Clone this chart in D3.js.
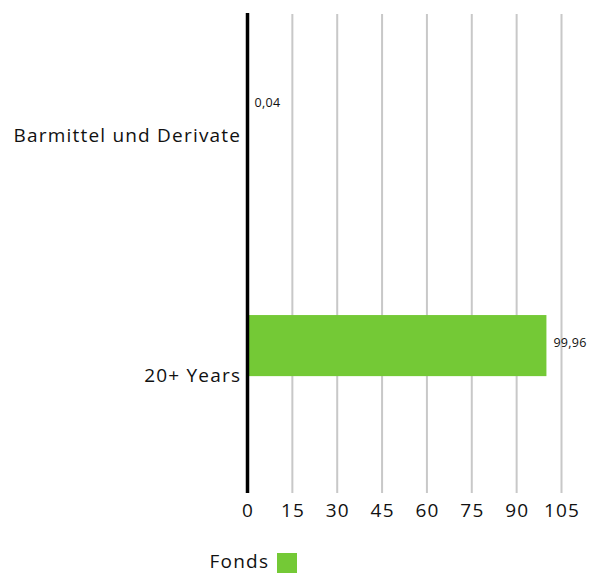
<!DOCTYPE html>
<html><head><meta charset="utf-8">
<script src="https://cdn.jsdelivr.net/npm/d3@7"></script>
<style>body{margin:0;background:#fff}svg{display:block}text{font-family:"Open Sans",sans-serif;fill:#111}</style>
</head><body>
<svg id="c" width="592" height="574"></svg>
<script>
const categories = ["Barmittel und Derivate", "20+ Years"];
const fondsValues = [0.04, 99.96];
const valueLabels = ["0,04", "99,96"];
const xTicks = [0, 15, 30, 45, 60, 75, 90, 105];
const seriesName = "Fonds";
const color = "#74C936";

const svg = d3.select("#c");
const x = d3.scaleLinear().domain([0, 105]).range([247.5, 561.5]);
const y = d3.scaleBand().domain(categories).range([14, 493]);
const LS = 1.2;

// grid
svg.append("g").selectAll("line").data(xTicks.slice(1)).join("line")
  .attr("x1", d => x(d)).attr("x2", d => x(d))
  .attr("y1", 14).attr("y2", 493)
  .attr("stroke", "#c8c8c8").attr("stroke-width", 2);

// tick labels
svg.append("g").selectAll("text").data(xTicks).join("text")
  .attr("x", d => x(d) + LS / 2).attr("y", 510).attr("dy", "0.35em")
  .attr("text-anchor", "middle").attr("font-size", 19).attr("letter-spacing", LS)
  .text(d => d);

// bars
const bw = y.bandwidth();
svg.append("g").selectAll("rect").data(categories).join("rect")
  .attr("x", x(0)).attr("y", c => y(c) + bw * 0.257)
  .attr("width", (c, i) => x(fondsValues[i]) - x(0))
  .attr("height", bw * 0.255)
  .attr("fill", color);

// value labels
svg.append("g").selectAll("text").data(categories).join("text")
  .attr("x", (c, i) => x(fondsValues[i]) + 7)
  .attr("y", c => y(c) + bw * 0.257 + bw * 0.255 / 2 - 3)
  .attr("dy", "0.35em").attr("font-size", 12.5).attr("letter-spacing", 0.3)
  .text((c, i) => valueLabels[i]);

// category labels
svg.append("g").selectAll("text").data(categories).join("text")
  .attr("x", 240 + LS).attr("y", c => y(c) + bw / 2 + 2)
  .attr("dy", "0.35em").attr("text-anchor", "end").attr("font-size", 19).attr("letter-spacing", LS)
  .text(c => c);

// axis line
svg.append("line").attr("x1", x(0)).attr("x2", x(0)).attr("y1", 13).attr("y2", 493)
  .attr("stroke", "#000").attr("stroke-width", 3.5);

// legend
svg.append("text").attr("x", 268 + LS).attr("y", 561.5).attr("dy", "0.35em")
  .attr("text-anchor", "end").attr("font-size", 19).attr("letter-spacing", LS).text(seriesName);
svg.append("rect").attr("x", 277).attr("y", 553).attr("width", 20).attr("height", 20).attr("fill", color);
</script>
</body></html>
